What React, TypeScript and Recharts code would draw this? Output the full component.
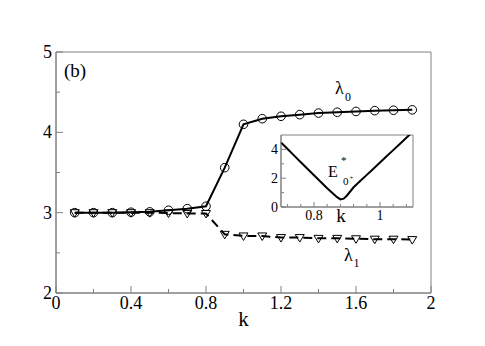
import { ComposedChart, LineChart, Line, XAxis, YAxis, ReferenceArea } from 'recharts';

const K_VALUES = [0.1, 0.2, 0.3, 0.4, 0.5, 0.6, 0.7, 0.8, 0.9, 1.0, 1.1, 1.2, 1.3, 1.4, 1.5, 1.6, 1.7, 1.8, 1.9];
const LAMBDA0 = [3.0, 3.0, 3.0, 3.005, 3.01, 3.03, 3.05, 3.08, 3.56, 4.1, 4.17, 4.2, 4.22, 4.24, 4.25, 4.26, 4.27, 4.275, 4.28];
const LAMBDA1 = [3.0, 3.0, 3.0, 3.0, 3.0, 2.995, 2.99, 2.99, 2.73, 2.71, 2.71, 2.69, 2.69, 2.68, 2.68, 2.675, 2.67, 2.67, 2.665];

const MAIN_X_TICKS = [0, 0.2, 0.4, 0.6, 0.8, 1.0, 1.2, 1.4, 1.6, 1.8, 2];
const MAIN_X_LABELS = ['0', '', '0.4', '', '0.8', '', '1.2', '', '1.6', '', '2'];
const MAIN_Y_TICKS = [2, 2.5, 3, 3.5, 4, 4.5, 5];
const MAIN_Y_LABELS = ['2', '', '3', '', '4', '', '5'];

// inset: E*_0+ against k
const INSET_K = [0.7, 0.72, 0.74, 0.76, 0.78, 0.8, 0.82, 0.84, 0.86, 0.87, 0.88, 0.89, 0.9, 0.92, 0.94, 0.96, 0.98, 1.0, 1.02, 1.04, 1.06, 1.08, 1.1];
const INSET_E = [4.48, 4.03, 3.57, 3.11, 2.66, 2.2, 1.75, 1.3, 0.88, 0.68, 0.53, 0.58, 0.8, 1.37, 1.8, 2.23, 2.66, 3.09, 3.52, 3.95, 4.38, 4.81, 5.24];

const INSET_X_TICKS = [0.72, 0.76, 0.8, 0.84, 0.88, 0.92, 0.96, 1, 1.04, 1.08];
const INSET_X_LABELS = ['', '', '0.8', '', '', '', '', '1', '', ''];
const INSET_Y_TICKS = [0, 1, 2, 3, 4];
const INSET_Y_LABELS = ['0', '', '2', '', '4'];

const mainData = K_VALUES.map((k, i) => ({ k, l0: LAMBDA0[i], l1: LAMBDA1[i] }));
const insetData = INSET_K.map((k, i) => ({ k, e: INSET_E[i] }));

const SERIF = '"Liberation Serif", "DejaVu Serif", serif';
const FRAME = '#808080';

const makeXTick = (ticks: number[], labels: string[], majorLen: number, minorLen: number, fontSize: number, dy: number) =>
  (props: any) => {
    const { x, y, payload } = props;
    const idx = ticks.findIndex((t) => Math.abs(t - payload.value) < 1e-9);
    const label = idx >= 0 ? labels[idx] : '';
    return (
      <g>
        <line x1={x} x2={x} y1={y} y2={y - (label ? majorLen : minorLen)} stroke={FRAME} strokeWidth={1} />
        {label && (
          <text x={x} y={y + dy} textAnchor="middle" style={{ fontFamily: SERIF, fontSize }} fill="#000">
            {label}
          </text>
        )}
      </g>
    );
  };

const makeYTick = (ticks: number[], labels: string[], majorLen: number, minorLen: number, fontSize: number, gap: number, dy: number) =>
  (props: any) => {
    const { x, y, payload } = props;
    const idx = ticks.findIndex((t) => Math.abs(t - payload.value) < 1e-9);
    const label = idx >= 0 ? labels[idx] : '';
    return (
      <g>
        <line x1={x} x2={x + (label ? majorLen : minorLen)} y1={y} y2={y} stroke={FRAME} strokeWidth={1} />
        {label && (
          <text x={x - gap} y={y + dy} textAnchor="end" style={{ fontFamily: SERIF, fontSize }} fill="#000">
            {label}
          </text>
        )}
      </g>
    );
  };

const CircleDot = (props: any) => {
  const { cx, cy, index } = props;
  if (cx == null || cy == null) return null;
  return <circle key={`c-${index}`} cx={cx} cy={cy} r={4.3} fill="none" stroke="#000" strokeWidth={1} />;
};

const TriangleDot = (props: any) => {
  const { cx, cy, index } = props;
  if (cx == null || cy == null) return null;
  return (
    <path
      key={`t-${index}`}
      d={`M${cx - 4.5},${cy - 3} L${cx + 4.5},${cy - 3} L${cx},${cy + 4.5} Z`}
      fill="none"
      stroke="#000"
      strokeWidth={1}
    />
  );
};

const txt = (size: number) => ({ fontFamily: SERIF, fontSize: size });

export default function App() {
  return (
    <div style={{ position: 'absolute', left: 0, top: 0, width: 485, height: 346, background: '#fff', fontFamily: SERIF }}>
      <ComposedChart width={485} height={346} data={mainData} margin={{ top: 52, right: 54, bottom: 0, left: 0 }}>
        <XAxis
          dataKey="k"
          type="number"
          domain={[0, 2]}
          ticks={MAIN_X_TICKS}
          height={53}
          tickSize={0}
          tickMargin={0}
          axisLine={{ stroke: FRAME }}
          tickLine={false}
          interval={0}
          tick={makeXTick(MAIN_X_TICKS, MAIN_X_LABELS, 7, 4, 18, 16)}
        />
        <YAxis
          type="number"
          domain={[2, 5]}
          ticks={MAIN_Y_TICKS}
          width={56}
          tickSize={0}
          tickMargin={0}
          axisLine={{ stroke: FRAME }}
          tickLine={false}
          interval={0}
          tick={makeYTick(MAIN_Y_TICKS, MAIN_Y_LABELS, 7, 4, 18, 4, 6)}
        />
        <ReferenceArea x1={0} x2={2} y1={2} y2={5} fill="none" stroke={FRAME} strokeWidth={1} ifOverflow="visible" />
        <Line
          dataKey="l1"
          stroke="#000"
          strokeWidth={2}
          strokeDasharray="9 5"
          dot={TriangleDot}
          activeDot={false}
          isAnimationActive={false}
        />
        <Line
          dataKey="l0"
          stroke="#000"
          strokeWidth={2}
          dot={CircleDot}
          activeDot={false}
          isAnimationActive={false}
        />
      </ComposedChart>

      <div style={{ position: 'absolute', left: 240, top: 120 }}>
        <LineChart width={185} height={110} data={insetData} margin={{ top: 15, right: 12, bottom: 0, left: 0 }}>
          <XAxis
            dataKey="k"
            type="number"
            domain={[0.7, 1.1]}
            ticks={INSET_X_TICKS}
            height={23}
            tickSize={0}
            tickMargin={0}
            axisLine={{ stroke: FRAME }}
            tickLine={false}
            interval={0}
            tick={makeXTick(INSET_X_TICKS, INSET_X_LABELS, 5, 3, 14, 13)}
          />
          <YAxis
            type="number"
            domain={[0, 5]}
            allowDataOverflow
            ticks={INSET_Y_TICKS}
            width={41}
            tickSize={0}
            tickMargin={0}
            axisLine={{ stroke: FRAME }}
            tickLine={false}
            interval={0}
            tick={makeYTick(INSET_Y_TICKS, INSET_Y_LABELS, 5, 3, 14, 3, 5)}
          />
          <ReferenceArea x1={0.7} x2={1.1} y1={0} y2={5} fill="none" stroke={FRAME} strokeWidth={1} ifOverflow="visible" />
          <Line dataKey="e" stroke="#000" strokeWidth={2} dot={false} activeDot={false} isAnimationActive={false} />
        </LineChart>
      </div>

      <svg width={485} height={346} style={{ position: 'absolute', left: 0, top: 0, pointerEvents: 'none' }} fill="#000">
        <text x={64} y={77} style={txt(19)}>(b)</text>
        <text x={335} y={94} style={txt(18)}>λ</text>
        <text x={345} y={101} style={txt(12)}>0</text>
        <text x={344} y={261} style={txt(18)}>λ</text>
        <text x={353.5} y={267} style={txt(12)}>1</text>
        <text x={243.5} y={326} textAnchor="middle" style={txt(21)}>k</text>
        <text x={328} y={177} style={txt(16)}>E</text>
        <text x={341} y={164} style={txt(11)}>*</text>
        <text x={343} y={185} style={txt(11)}>0</text>
        <text x={349.5} y={180} style={txt(7)}>+</text>
        <text x={341} y={222} textAnchor="middle" style={txt(19)}>k</text>
      </svg>
    </div>
  );
}
